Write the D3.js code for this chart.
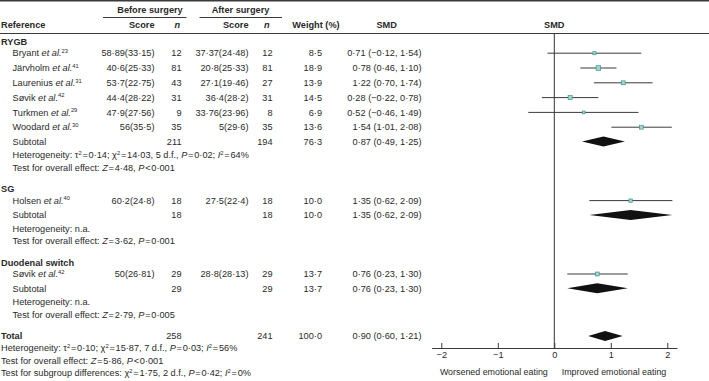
<!DOCTYPE html>
<html>
<head>
<meta charset="utf-8">
<script src="https://cdn.jsdelivr.net/npm/d3@7"></script>
<style>
  body { margin: 0; background: #fff; }
  svg { display: block; font-family: "Liberation Sans", Arial, Helvetica, sans-serif; }
  text { fill: #2a2a2a; font-size: 9.2px; }
  .b { font-weight: bold; }
</style>
</head>
<body>
<svg width="709" height="381"></svg>
<script>
// studies
var studyNames = ["Bryant", "Järvholm", "Laurenius", "Søvik", "Turkmen", "Woodard", "Holsen", "Søvik"];
var studyRefs = ["23", "41", "31", "42", "29", "30", "40", "42"];
var studyGroup = [0, 0, 0, 0, 0, 0, 1, 2];
var scoreBefore = ["58·89(33·15)", "40·6(25·33)", "53·7(22·75)", "44·4(28·22)", "47·9(27·56)", "56(35·5)", "60·2(24·8)", "50(26·81)"];
var nBefore = [12, 81, 43, 31, 9, 35, 18, 29];
var scoreAfter = ["37·37(24·48)", "20·8(25·33)", "27·1(19·46)", "36·4(28·2)", "33·76(23·96)", "5(29·6)", "27·5(22·4)", "28·8(28·13)"];
var nAfter = [12, 81, 27, 31, 8, 35, 18, 29];
var weights = [8.5, 18.9, 13.9, 14.5, 6.9, 13.6, 10.0, 13.7];
var smd = [0.71, 0.78, 1.22, 0.28, 0.52, 1.54, 1.35, 0.76];
var ciLow = [-0.12, 0.46, 0.70, -0.22, -0.46, 1.01, 0.62, 0.23];
var ciHigh = [1.54, 1.10, 1.74, 0.78, 1.49, 2.08, 2.09, 1.30];

// subgroups
var groupNames = ["RYGB", "SG", "Duodenal switch"];
var groupNBefore = [211, 18, 29];
var groupNAfter = [194, 18, 29];
var groupWeight = [76.3, 10.0, 13.7];
var groupSmd = [0.87, 1.35, 0.76];
var groupLow = [0.49, 0.62, 0.23];
var groupHigh = [1.25, 2.09, 1.30];
var groupHet = ["Heterogeneity: τ^2 = 0·14; χ^2 = 14·03, 5 d.f., _P_ = 0·02; _I_^2 = 64%",
                "Heterogeneity: n.a.", "Heterogeneity: n.a."];
var groupTest = ["Test for overall effect: _Z_ = 4·48, _P_ < 0·001",
                 "Test for overall effect: _Z_ = 3·62, _P_ = 0·001",
                 "Test for overall effect: _Z_ = 2·79, _P_ = 0·005"];

// overall
var totalNBefore = 258, totalNAfter = 241, totalWeight = 100.0;
var totalSmd = 0.90, totalLow = 0.60, totalHigh = 1.21;
var totalNotes = ["Heterogeneity: τ^2 = 0·10; χ^2 = 15·87, 7 d.f., _P_ = 0·03; _I_^2 = 56%",
                  "Test for overall effect: _Z_ = 5·86, _P_ < 0·001",
                  "Test for subgroup differences: χ^2 = 1·75, 2 d.f., _P_ = 0·42; _I_^2 = 0%"];

var axisTicks = [-2, -1, 0, 1, 2];
var axisLabels = ["Worsened emotional eating", "Improved emotional eating"];

var svg = d3.select("svg"),
    width = +svg.attr("width");

var f2 = function(v) { return d3.format(".2f")(v).replace(".", "·"); };
var f1 = function(v) { return d3.format(".1f")(v).replace(".", "·"); };
var ciText = function(m, l, h) { return f2(m) + " (" + f2(l) + ", " + f2(h) + ")"; };

var x = d3.scaleLinear().domain([-2.17, 2.17]).range([431.7, 676.9]);
var axisY = 348;

// column anchors
var col = { name: 12.5, scoreB: 154.5, nB: 181.5, scoreA: 248.5, nA: 272.5, weight: 322, smd: 421.5 };

function txt(xx, yy, s, anchor, cls) {
  return svg.append("text")
      .attr("x", xx).attr("y", yy).attr("dy", "0.35em")
      .attr("text-anchor", anchor || "start")
      .attr("class", cls || null)
      .text(s);
}

// tiny markup: _x_ italic, ^2 superscript, spaces around = and < become thin
function rich(xx, yy, s) {
  var t = svg.append("text").attr("x", xx).attr("y", yy + 3.2);
  s = s.replace(/ ([=<]) /g, "\u200A$1\u200A");
  var parts = s.split(/(_[^_]+_|\^2)/).filter(function(p) { return p; });
  var up = false;
  parts.forEach(function(p) {
    var sp;
    if (p === "^2") {
      t.append("tspan").attr("dy", -3.5).style("font-size", "5.8px").text("2");
      up = true;
      return;
    }
    if (p[0] === "_") sp = t.append("tspan").style("font-style", "italic").text(p.slice(1, -1));
    else sp = t.append("tspan").text(p);
    if (up) { sp.attr("dy", 3.5); up = false; }
  });
  return t;
}

// rules
svg.append("line").attr("x1", 0).attr("x2", width).attr("y1", 0.8).attr("y2", 0.8)
    .attr("stroke", "#3a3a3a").attr("stroke-width", 1.6);
svg.append("line").attr("x1", 0).attr("x2", width).attr("y1", 33.5).attr("y2", 33.5)
    .attr("stroke", "#3a3a3a").attr("stroke-width", 1);
svg.append("line").attr("x1", 103).attr("x2", 186.5).attr("y1", 17.5).attr("y2", 17.5)
    .attr("stroke", "#3a3a3a").attr("stroke-width", 1);
svg.append("line").attr("x1", 199.5).attr("x2", 282).attr("y1", 17.5).attr("y2", 17.5)
    .attr("stroke", "#3a3a3a").attr("stroke-width", 1);

// headers
txt(150, 10, "Before surgery", "middle", "b");
txt(240.5, 10, "After surgery", "middle", "b");
txt(1, 25, "Reference", "start", "b");
txt(col.scoreB, 25, "Score", "end", "b");
txt(180, 25, "n", "end", "b").style("font-style", "italic");
txt(col.scoreA, 25, "Score", "end", "b");
txt(269.5, 25, "n", "end", "b").style("font-style", "italic");
txt(316, 25, "Weight (%)", "middle", "b");
txt(386.7, 25, "SMD", "middle", "b");
txt(x(0), 25, "SMD", "middle", "b");

// zero line
svg.append("line").attr("x1", x(0)).attr("x2", x(0)).attr("y1", 33.5).attr("y2", axisY)
    .attr("stroke", "#333").attr("stroke-width", 1);

function diamond(yc, m, l, h) {
  svg.append("path")
      .attr("d", d3.line()([[x(l), yc], [x(m), yc - 5], [x(h), yc], [x(m), yc + 5]]) + "Z")
      .attr("fill", "#111");
}

var y = 41.7;
groupNames.forEach(function(g, gi) {
  txt(1, y, g, "start", "b");
  y += 11.5;
  var idx = d3.range(studyNames.length).filter(function(i) { return studyGroup[i] === gi; });
  idx.forEach(function(i, k) {
    if (k > 0) y += 14.8;
    var t = txt(col.name, y, studyNames[i] + " ");
    t.append("tspan").style("font-style", "italic").text("et al.");
    t.append("tspan").attr("dy", -3.5).style("font-size", "5.8px").text(studyRefs[i]);
    txt(col.scoreB, y, scoreBefore[i], "end");
    txt(col.nB, y, nBefore[i], "end");
    txt(col.scoreA, y, scoreAfter[i], "end");
    txt(col.nA, y, nAfter[i], "end");
    txt(col.weight, y, f1(weights[i]), "end");
    txt(col.smd, y, ciText(smd[i], ciLow[i], ciHigh[i]), "end");
    svg.append("line").attr("x1", x(ciLow[i])).attr("x2", x(ciHigh[i]))
        .attr("y1", y).attr("y2", y).attr("stroke", "#3a3a3a").attr("stroke-width", 1);
    var s = Math.sqrt(weights[i]) * 1.05;
    svg.append("rect").attr("x", x(smd[i]) - s / 2).attr("y", y - s / 2)
        .attr("width", s).attr("height", s)
        .attr("fill", "#9fd8d3").attr("stroke", "#3f8f8a").attr("stroke-width", 0.7);
  });
  y += 14.3;
  txt(col.name, y, "Subtotal");
  txt(col.nB, y, groupNBefore[gi], "end");
  txt(col.nA, y, groupNAfter[gi], "end");
  txt(col.weight, y, f1(groupWeight[gi]), "end");
  txt(col.smd, y, ciText(groupSmd[gi], groupLow[gi], groupHigh[gi]), "end");
  diamond(y, groupSmd[gi], groupLow[gi], groupHigh[gi]);
  y += 13.4;
  rich(col.name, y, groupHet[gi]);
  y += 12.7;
  rich(col.name, y, groupTest[gi]);
  y += 21.5;
});

// total
txt(1, y, "Total", "start", "b");
txt(col.nB, y, totalNBefore, "end");
txt(col.nA, y, totalNAfter, "end");
txt(col.weight, y, f1(totalWeight), "end");
txt(col.smd, y, ciText(totalSmd, totalLow, totalHigh), "end");
diamond(y, totalSmd, totalLow, totalHigh);
totalNotes.forEach(function(n, i) { rich(1, y + 12.3 * (i + 1), n); });

// axis
var ax = svg.append("g")
    .attr("transform", "translate(0," + axisY + ")")
    .call(d3.axisBottom(x).tickValues(axisTicks).tickSize(-5).tickSizeOuter(0).tickPadding(3)
          .tickFormat(d3.format("d")));
ax.select(".domain").attr("stroke", "#3a3a3a");
ax.selectAll(".tick line").attr("stroke", "#3a3a3a");
ax.selectAll(".tick text").style("font-size", "9.2px").attr("fill", "#2a2a2a")
    .style("font-family", "'Liberation Sans', Arial, sans-serif");

txt(x(0) - 6.5, 371.7, axisLabels[0], "end").style("font-size", "8.9px");
txt(x(0) + 7.4, 371.7, axisLabels[1], "start").style("font-size", "8.9px");
</script>
</body>
</html>
